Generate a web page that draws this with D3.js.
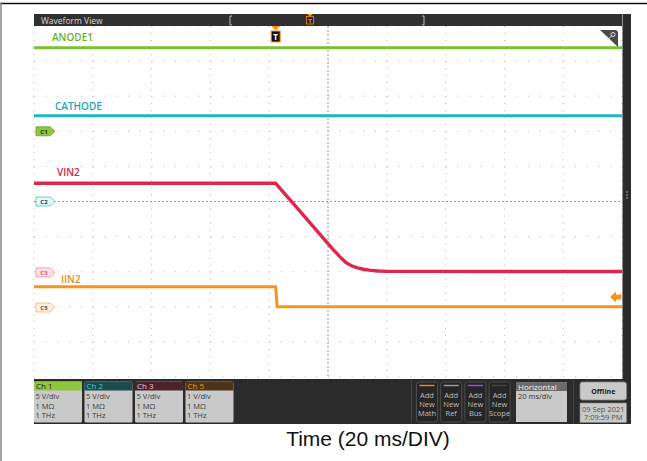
<!DOCTYPE html>
<html>
<head>
<meta charset="utf-8">
<title>Waveform View</title>
<style>
body { margin: 0; background: #fff; }
svg { display: block; font-family: "Open Sans", "Noto Sans", sans-serif; }
</style>
</head>
<body>
<svg width="647" height="461"></svg>
<script src="https://d3js.org/d3.v7.min.js"></script>
<script>
// time in ms (20 ms/div, 10 div), values in V (A for IIN2)
var flatTime = [-100, 100];
var anode1   = [11.9, 11.9];
var cathode  = [12.2, 12.2];
var vinTime  = [-100, -17.8, -15, -10, -5, 0, 2, 3, 4, 5, 6, 7, 8, 10, 12, 14, 17, 20, 100];
var vin2     = [12.7, 12.7, 11.34, 8.93, 6.51, 4.1, 3.15, 2.7, 2.25, 1.85, 1.45, 1.18, 0.95, 0.64, 0.45, 0.32, 0.2, 0.14, 0.13];
var iinTime  = [-100, -17.8, -17.3, 100];
var iin2     = [0.59, 0.59, 0.02, 0.02];

// channel readouts
var chNames  = ["Ch 1", "Ch 2", "Ch 3", "Ch 5"];
var chScales = ["5 V/div", "5 V/div", "5 V/div", "1 V/div"];
var buttons  = ["Math", "Ref", "Bus", "Scope"];

var svg = d3.select("svg");
var x = d3.scaleLinear().domain([-100, 100]).range([34, 622]);
var y = d3.scaleLinear().domain([-5, 5]).range([377, 26]);

// page frame
svg.append("line").attr("x1", 0).attr("x2", 647).attr("y1", 3.5).attr("y2", 3.5)
    .style("stroke", "#111").style("stroke-width", 1.5);
svg.append("line").attr("x1", 1).attr("x2", 1).attr("y1", 3).attr("y2", 461)
    .style("stroke", "#888").style("stroke-width", 1.5);

// graticule
var divX = d3.range(-100, 101, 20), divY = d3.range(-5, 6, 1);
var grid = svg.append("g");
grid.selectAll(".gx").data(divX.filter(d => d !== 0)).enter().append("line")
    .attr("x1", d => x(d)).attr("x2", d => x(d)).attr("y1", y(5)).attr("y2", y(-5))
    .style("stroke", "#b4b4b4").style("stroke-dasharray", "1,6.02");
grid.selectAll(".gy").data(divY.filter(d => d !== 0)).enter().append("line")
    .attr("y1", d => y(d)).attr("y2", d => y(d)).attr("x1", x(-100)).attr("x2", x(100))
    .style("stroke", "#b4b4b4").style("stroke-dasharray", "1,10.76");
grid.append("line").attr("x1", x(0)).attr("x2", x(0)).attr("y1", y(5)).attr("y2", y(-5))
    .style("stroke", "#999").style("stroke-dasharray", "2,2");
grid.append("line").attr("y1", y(0)).attr("y2", y(0)).attr("x1", x(-100)).attr("x2", x(100))
    .style("stroke", "#999").style("stroke-dasharray", "2,2");

// traces
var channels = [
    {name: "ANODE1",  t: flatTime, v: anode1,  scale: 5, offset: 2.0,   color: "#7dc12b", text: "#6cb02a", lx: 52, ly: -7},
    {name: "CATHODE", t: flatTime, v: cathode, scale: 5, offset: 0,     color: "#1fb8c0", text: "#1aa9b3", lx: 55, ly: -6},
    {name: "VIN2",    t: vinTime,  v: vin2,    scale: 5, offset: -2.02, color: "#e0264f", text: "#d6244b", lx: 57, ly: -7},
    {name: "IIN2",    t: iinTime,  v: iin2,    scale: 1, offset: -3.02, color: "#f7941d", text: "#ef8a1b", lx: 61, ly: -4}
];
channels.forEach(function(ch) {
    var line = d3.line()
        .x((d, i) => x(ch.t[i]))
        .y(d => y(d / ch.scale + ch.offset))
        .curve(d3.curveLinear);
    svg.append("path")
        .attr("d", line(ch.v))
        .style("fill", "none")
        .style("stroke", ch.color)
        .style("stroke-width", ch.name == "VIN2" ? 3.4 : 3)
        .style("stroke-linejoin", "round");
    svg.append("text")
        .attr("x", ch.lx)
        .attr("y", y(ch.v[0] / ch.scale + ch.offset) + ch.ly)
        .style("fill", ch.text)
        .style("font-size", "10px")
        .style("font-weight", 600)
        .text(ch.name);
});

// ground markers on the left
var markers = [
    {label: "C1", offset: 2.0,   fill: "#8dc63f", stroke: "#6aa02a", text: "#222"},
    {label: "C2", offset: 0,     fill: "#e2f8f9", stroke: "#3cc6cc", text: "#333"},
    {label: "C3", offset: -2.02, fill: "#fde3e8", stroke: "#f08aa0", text: "#d06078"},
    {label: "C5", offset: -3.02, fill: "#feeede", stroke: "#f6b070", text: "#555"}
];
markers.forEach(function(m) {
    var cy = y(m.offset);
    svg.append("path")
        .attr("d", "M36," + (cy - 4.5) + "H50L55," + cy + "L50," + (cy + 4.5) + "H36Z")
        .style("fill", m.fill).style("stroke", m.stroke).style("stroke-width", 0.8);
    svg.append("text").attr("x", 44).attr("y", cy + 2.2).attr("text-anchor", "middle")
        .style("font-size", "6px").style("font-weight", "bold").style("fill", m.text).text(m.label);
});

// right side orange arrow
svg.append("path")
    .attr("d", "M610,297L616,291.5V294.5H621.5V299.5H616V302.5Z")
    .style("fill", "#f7941d");

// title bar
svg.append("rect").attr("x", 34).attr("y", 14).attr("width", 588).attr("height", 12).style("fill", "#303030");
svg.append("text").attr("x", 41).attr("y", 23.5).style("fill", "#d8d8d8").style("font-size", "8.5px").text("Waveform View");
svg.append("path").attr("d", "M232,16H230V25H232").style("fill", "none").style("stroke", "#bbb");
svg.append("path").attr("d", "M422,16H424V25H422").style("fill", "none").style("stroke", "#bbb");
// trigger markers
svg.append("path").attr("d", "M307,14H313L310,16.5Z").style("fill", "#f7941d");
svg.append("rect").attr("x", 306.5).attr("y", 16.5).attr("width", 7).attr("height", 7.5)
    .style("fill", "#222").style("stroke", "#f7941d").style("stroke-width", 0.8);
svg.append("text").attr("x", 310).attr("y", 22.6).attr("text-anchor", "middle")
    .style("font-size", "6px").style("font-weight", "bold").style("fill", "#f7941d").text("T");
svg.append("path").attr("d", "M" + (x(-17.8) - 4.5) + ",26H" + (x(-17.8) + 4.5) + "L" + x(-17.8) + ",30.5Z").style("fill", "#f7941d");
svg.append("rect").attr("x", x(-17.8) - 4.5).attr("y", 31).attr("width", 9).attr("height", 11)
    .style("fill", "#111").style("stroke", "#f7941d").style("stroke-width", 1);
svg.append("text").attr("x", x(-17.8)).attr("y", 40).attr("text-anchor", "middle")
    .style("font-size", "8px").style("font-weight", "bold").style("fill", "#fff").text("T");

// key corner
svg.append("path").attr("d", "M600,30H615Q618,30 618,33V47Z").style("fill", "#4a4a4a");
svg.append("circle").attr("cx", 613).attr("cy", 34.5).attr("r", 2).style("fill", "none").style("stroke", "#ddd");
svg.append("line").attr("x1", 611.5).attr("y1", 36).attr("x2", 607.5).attr("y2", 40).style("stroke", "#ddd");

// right strip
svg.append("rect").attr("x", 622.5).attr("y", 14).attr("width", 8.5).attr("height", 410).style("fill", "#2b2b2b");
[192, 195, 198].forEach(function(d) {
    svg.append("circle").attr("cx", 627).attr("cy", d).attr("r", 0.8).style("fill", "#aaa");
});

// bottom panel
svg.append("rect").attr("x", 34).attr("y", 379).attr("width", 597).attr("height", 45).style("fill", "#2b2b2b");
var headFill = ["#8dc63f", "#1d4b4e", "#4b2329", "#4d3419"];
var headText = ["#1a1a1a", "#3cc8cf", "#f2c4cf", "#f7941d"];
chNames.forEach(function(name, i) {
    var bx = 34 + i * 50.5;
    var g = svg.append("g");
    g.append("rect").attr("x", bx).attr("y", 381.5).attr("width", 48).attr("height", 41).attr("rx", 1.5).style("fill", "#c9c9c9");
    g.append("rect").attr("x", bx).attr("y", 381.5).attr("width", 48).attr("height", 9).style("fill", headFill[i]);
    g.append("text").attr("x", bx + 2).attr("y", 389).style("font-size", "8px").style("fill", headText[i]).text(name);
    [chScales[i], "1 M\u03A9", "1 THz"].forEach(function(s, k) {
        g.append("text").attr("x", bx + 1.5).attr("y", 399 + k * 9.5)
            .style("font-size", "7.5px").style("fill", "#3a3a3a").text(s);
    });
});

svg.append("line").attr("x1", 411.5).attr("x2", 411.5).attr("y1", 380).attr("y2", 423).style("stroke", "#444");
svg.append("line").attr("x1", 573.5).attr("x2", 573.5).attr("y1", 380).attr("y2", 423).style("stroke", "#444");
var btnColor = ["#e0892a", "#9a9a9a", "#9b4fcf", "#444"];
buttons.forEach(function(b, i) {
    var bx = 416.5 + i * 24.2;
    svg.append("rect").attr("x", bx).attr("y", 382).attr("width", 21).attr("height", 40).attr("rx", 2.5)
        .style("fill", "#262626").style("stroke", "#555").style("stroke-width", 0.8);
    svg.append("line").attr("x1", bx + 3).attr("x2", bx + 18).attr("y1", 385.5).attr("y2", 385.5)
        .style("stroke", btnColor[i]).style("stroke-width", 1.5);
    ["Add", "New", b].forEach(function(s, k) {
        svg.append("text").attr("x", bx + 10.5).attr("y", 397.5 + k * 9).attr("text-anchor", "middle")
            .style("font-size", "7.5px").style("fill", "#bdbdbd").text(s);
    });
});

svg.append("rect").attr("x", 516).attr("y", 382.5).attr("width", 51).attr("height", 39.5).style("fill", "#c9c9c9");
svg.append("rect").attr("x", 516).attr("y", 382.5).attr("width", 51).attr("height", 8.5).style("fill", "#6b6b6b");
svg.append("text").attr("x", 518).attr("y", 389.6).style("font-size", "8px").style("fill", "#f2f2f2").text("Horizontal");
svg.append("text").attr("x", 518).attr("y", 398.5).style("font-size", "7.5px").style("fill", "#333").text("20 ms/div");

svg.append("rect").attr("x", 580).attr("y", 382).attr("width", 46.5).attr("height", 18).attr("rx", 2.5)
    .style("fill", "#c9c9c9").style("stroke", "#888").style("stroke-width", 0.8);
svg.append("text").attr("x", 603.3).attr("y", 393.5).attr("text-anchor", "middle")
    .style("font-size", "7px").style("font-weight", "bold").style("fill", "#222").text("Offline");
svg.append("rect").attr("x", 580).attr("y", 403).attr("width", 46.5).attr("height", 19.5)
    .style("fill", "#c9c9c9").style("stroke", "#888").style("stroke-width", 0.6);
svg.append("text").attr("x", 603.3).attr("y", 411.5).attr("text-anchor", "middle")
    .style("font-size", "7.5px").style("fill", "#555").text("09 Sep 2021");
svg.append("text").attr("x", 603.3).attr("y", 420).attr("text-anchor", "middle")
    .style("font-size", "7.5px").style("fill", "#555").text("7:09:59 PM");

// axis caption
svg.append("text").attr("x", 368).attr("y", 446).attr("text-anchor", "middle")
    .style("font-family", "'Liberation Sans', Arial, sans-serif").style("font-size", "21px").style("fill", "#111")
    .text("Time (20 ms/DIV)");
</script>
</body>
</html>
